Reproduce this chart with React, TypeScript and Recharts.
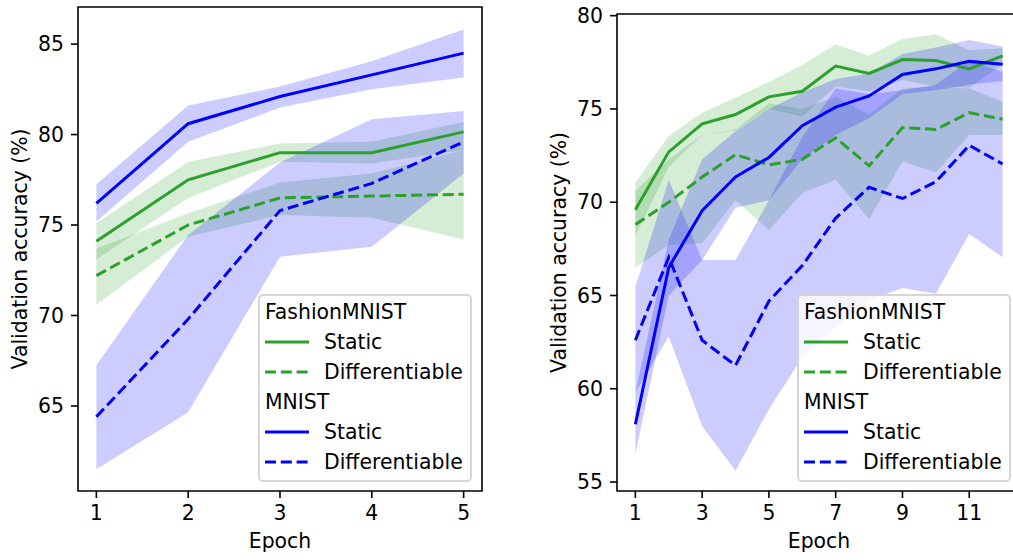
import { Area, ComposedChart, Legend, Line, ReferenceArea, XAxis, YAxis } from "recharts";

const GREEN = "#2ca02c";
const BLUE = "#0000ff";
const FONT = "'DejaVu Sans', sans-serif";
const FONT_SIZE = 20.4;
const DASH = "11 4.8";

// left panel: 5 epochs
const EPOCHS_5 = [1, 2, 3, 4, 5];
const FASHION_STATIC_5 = [74.1, 77.5, 79.0, 79.0, 80.15];
const FASHION_STATIC_5_LO = [73.1, 76.5, 78.5, 78.4, 79.15];
const FASHION_STATIC_5_HI = [75.1, 78.5, 79.5, 79.6, 80.7];
const FASHION_DIFF_5 = [72.2, 75.0, 76.5, 76.6, 76.7];
const FASHION_DIFF_5_LO = [70.6, 74.35, 75.55, 75.4, 74.2];
const FASHION_DIFF_5_HI = [73.7, 75.65, 77.35, 77.85, 79.15];
const MNIST_STATIC_5 = [76.2, 80.6, 82.1, 83.3, 84.5];
const MNIST_STATIC_5_LO = [75.2, 79.6, 81.5, 82.5, 83.15];
const MNIST_STATIC_5_HI = [77.25, 81.6, 82.65, 84.05, 85.8];
const MNIST_DIFF_5 = [64.4, 69.8, 75.8, 77.3, 79.6];
const MNIST_DIFF_5_LO = [61.5, 64.65, 73.25, 73.8, 77.85];
const MNIST_DIFF_5_HI = [67.25, 74.45, 78.45, 80.85, 81.3];
const X_TICKS_5 = [1, 2, 3, 4, 5];
const Y_TICKS_5 = [65, 70, 75, 80, 85];

// right panel: 12 epochs
const EPOCHS_12 = [1, 2, 3, 4, 5, 6, 7, 8, 9, 10, 11, 12];
const FASHION_STATIC_12 = [69.6, 72.7, 74.2, 74.7, 75.65, 75.95, 77.3, 76.9, 77.65, 77.6, 77.15, 77.85];
const FASHION_STATIC_12_LO = [68.2, 71.9, 73.6, 73.85, 75.0, 74.6, 76.2, 75.95, 76.55, 76.2, 76.15, 77.4];
const FASHION_STATIC_12_HI = [71.05, 73.55, 74.8, 75.6, 76.45, 77.35, 78.45, 77.85, 78.75, 79.0, 78.15, 78.25];
const FASHION_DIFF_12 = [68.8, 70.0, 71.35, 72.55, 72.0, 72.3, 73.45, 71.95, 74.0, 73.9, 74.8, 74.45];
const FASHION_DIFF_12_LO = [66.5, 67.7, 67.8, 70.1, 68.5, 70.5, 71.2, 69.1, 72.2, 71.6, 73.6, 73.6];
const FASHION_DIFF_12_HI = [70.6, 72.3, 73.6, 73.9, 75.3, 75.0, 75.65, 74.7, 76.1, 76.2, 76.1, 75.4];
const MNIST_STATIC_12 = [58.1, 66.5, 69.55, 71.35, 72.4, 74.1, 75.1, 75.7, 76.85, 77.15, 77.55, 77.4];
const MNIST_STATIC_12_LO = [56.5, 65.0, 66.9, 69.7, 70.1, 72.3, 73.6, 74.5, 75.8, 76.0, 76.3, 76.5];
const MNIST_STATIC_12_HI = [59.8, 68.0, 72.3, 73.8, 75.0, 75.9, 76.6, 76.9, 77.95, 78.3, 78.7, 78.35];
const MNIST_DIFF_12 = [62.6, 67.05, 62.6, 61.25, 64.7, 66.6, 69.15, 70.8, 70.2, 71.1, 73.05, 72.05];
const MNIST_DIFF_12_LO = [59.8, 62.8, 58.0, 55.6, 58.9, 61.7, 63.3, 64.75, 65.4, 65.1, 68.3, 67.05];
const MNIST_DIFF_12_HI = [65.45, 71.2, 66.9, 66.9, 70.1, 73.5, 76.1, 75.8, 76.0, 76.3, 77.6, 77.0];
const X_TICKS_12 = [1, 3, 5, 7, 9, 11];
const Y_TICKS_12 = [55, 60, 65, 70, 75, 80];

const LEGEND_GROUPS = [
  { title: "FashionMNIST", color: GREEN },
  { title: "MNIST", color: BLUE },
];
const LEGEND_ITEMS = [
  { label: "Static", dash: undefined },
  { label: "Differentiable", dash: DASH },
];

function buildRows(
  epochs: number[],
  fs: number[], fsLo: number[], fsHi: number[],
  fd: number[], fdLo: number[], fdHi: number[],
  ms: number[], msLo: number[], msHi: number[],
  md: number[], mdLo: number[], mdHi: number[]
) {
  return epochs.map((epoch, i) => ({
    epoch,
    fs: fs[i],
    fsBand: [fsLo[i], fsHi[i]],
    fd: fd[i],
    fdBand: [fdLo[i], fdHi[i]],
    ms: ms[i],
    msBand: [msLo[i], msHi[i]],
    md: md[i],
    mdBand: [mdLo[i], mdHi[i]],
  }));
}

const rows5 = buildRows(
  EPOCHS_5,
  FASHION_STATIC_5, FASHION_STATIC_5_LO, FASHION_STATIC_5_HI,
  FASHION_DIFF_5, FASHION_DIFF_5_LO, FASHION_DIFF_5_HI,
  MNIST_STATIC_5, MNIST_STATIC_5_LO, MNIST_STATIC_5_HI,
  MNIST_DIFF_5, MNIST_DIFF_5_LO, MNIST_DIFF_5_HI
);
const rows12 = buildRows(
  EPOCHS_12,
  FASHION_STATIC_12, FASHION_STATIC_12_LO, FASHION_STATIC_12_HI,
  FASHION_DIFF_12, FASHION_DIFF_12_LO, FASHION_DIFF_12_HI,
  MNIST_STATIC_12, MNIST_STATIC_12_LO, MNIST_STATIC_12_HI,
  MNIST_DIFF_12, MNIST_DIFF_12_LO, MNIST_DIFF_12_HI
);

function LegendBox() {
  return (
    <div
      style={{
        boxSizing: "border-box",
        width: 214,
        background: "rgba(255,255,255,0.8)",
        border: "2px solid rgba(204,204,204,0.8)",
        borderRadius: 5,
        padding: "1px 5px 3px 5px",
        fontFamily: FONT,
        fontSize: FONT_SIZE,
        lineHeight: "30px",
        color: "#000",
        whiteSpace: "nowrap",
      }}
    >
      {LEGEND_GROUPS.map((g) => (
        <div key={g.title}>
          <div>{g.title}</div>
          {LEGEND_ITEMS.map((it) => (
            <div key={it.label} style={{ display: "flex", alignItems: "center", height: 30 }}>
              <svg width={44} height={10} style={{ flex: "none" }}>
                <line x1={0} x2={44} y1={5} y2={5} stroke={g.color} strokeWidth={3} strokeDasharray={it.dash} />
              </svg>
              <span style={{ marginLeft: 15 }}>{it.label}</span>
            </div>
          ))}
        </div>
      ))}
    </div>
  );
}

interface PanelProps {
  rows: ReturnType<typeof buildRows>;
  xDomain: [number, number];
  yDomain: [number, number];
  xTicks: number[];
  yTicks: number[];
  left: number;
  top: number;
  yAxisWidth: number;
  rightMargin: number;
  legendLeft: number;
}

function Panel({ rows, xDomain, yDomain, xTicks, yTicks, left, top, yAxisWidth, rightMargin, legendLeft }: PanelProps) {
  const tickStyle = { fill: "#000", fontSize: FONT_SIZE, fontFamily: FONT };
  return (
    <div style={{ position: "absolute", left, top: 0 }}>
      <ComposedChart
        width={500}
        height={560}
        data={rows}
        margin={{ top, right: rightMargin, bottom: 9, left: 0 }}
      >
        <XAxis
          dataKey="epoch"
          type="number"
          domain={xDomain}
          ticks={xTicks}
          allowDataOverflow
          axisLine={false}
          tickLine={{ stroke: "#000", strokeWidth: 1.6 }}
          tickSize={7}
          tickMargin={8}
          tick={tickStyle}
          height={60}
          label={{ value: "Epoch", position: "insideBottom", offset: 3, fill: "#000", fontSize: FONT_SIZE, fontFamily: FONT }}
        />
        <YAxis
          type="number"
          domain={yDomain}
          ticks={yTicks}
          interval={0}
          allowDataOverflow
          axisLine={false}
          tickLine={{ stroke: "#000", strokeWidth: 1.6 }}
          tickSize={7}
          tickMargin={7}
          tick={tickStyle}
          width={yAxisWidth}
          label={(p: any) => {
            const vb = p.viewBox || {};
            const x = (vb.x ?? 0) + yAxisWidth - 51.5;
            const y = (vb.y ?? 0) + (vb.height ?? 0) / 2;
            return (
              <text
                x={x}
                y={y}
                transform={`rotate(-90 ${x} ${y})`}
                textAnchor="middle"
                fill="#000"
                fontSize={FONT_SIZE}
                fontFamily={FONT}
              >
                Validation accuracy (%)
              </text>
            );
          }}
        />
        <Area type="linear" dataKey="fsBand" fill={GREEN} fillOpacity={0.2} stroke="none" isAnimationActive={false} activeDot={false} />
        <Area type="linear" dataKey="fdBand" fill={GREEN} fillOpacity={0.2} stroke="none" isAnimationActive={false} activeDot={false} />
        <Area type="linear" dataKey="msBand" fill={BLUE} fillOpacity={0.2} stroke="none" isAnimationActive={false} activeDot={false} />
        <Area type="linear" dataKey="mdBand" fill={BLUE} fillOpacity={0.2} stroke="none" isAnimationActive={false} activeDot={false} />
        <Line type="linear" dataKey="fs" stroke={GREEN} strokeWidth={3} dot={false} activeDot={false} isAnimationActive={false} />
        <Line type="linear" dataKey="fd" stroke={GREEN} strokeWidth={3} strokeDasharray={DASH} dot={false} activeDot={false} isAnimationActive={false} />
        <Line type="linear" dataKey="ms" stroke={BLUE} strokeWidth={3} dot={false} activeDot={false} isAnimationActive={false} />
        <Line type="linear" dataKey="md" stroke={BLUE} strokeWidth={3} strokeDasharray={DASH} dot={false} activeDot={false} isAnimationActive={false} />
        <ReferenceArea
          x1={xDomain[0]}
          x2={xDomain[1]}
          y1={yDomain[0]}
          y2={yDomain[1]}
          fill="none"
          stroke="#000"
          strokeWidth={1.6}
          ifOverflow="visible"
        />
        <Legend
          layout="vertical"
          align="center"
          verticalAlign="middle"
          content={() => <LegendBox />}
          wrapperStyle={{ left: legendLeft, top: 294, width: 214, height: 187 }}
        />
      </ComposedChart>
    </div>
  );
}

export default function App() {
  return (
    <div
      style={{
        position: "absolute",
        left: 0,
        top: 0,
        width: 1013,
        height: 560,
        overflow: "hidden",
        background: "#fff",
      }}
    >
      <Panel
        rows={rows5}
        xDomain={[0.8, 5.2]}
        yDomain={[60.3, 87.05]}
        xTicks={X_TICKS_5}
        yTicks={Y_TICKS_5}
        left={0}
        top={7}
        yAxisWidth={78}
        rightMargin={18}
        legendLeft={258}
      />
      <Panel
        rows={rows12}
        xDomain={[0.45, 12.55]}
        yDomain={[54.52, 80.09]}
        xTicks={X_TICKS_12}
        yTicks={Y_TICKS_12}
        left={530}
        top={14}
        yAxisWidth={87}
        rightMargin={9}
        legendLeft={267}
      />
    </div>
  );
}
